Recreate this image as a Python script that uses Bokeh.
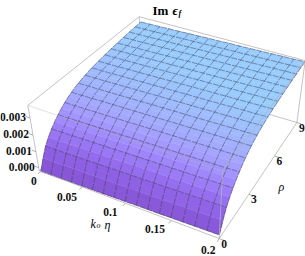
import numpy as np
from bokeh.plotting import figure
from bokeh.core.properties import value
from bokeh.embed import file_html
from bokeh.resources import INLINE

# ---- data ----
k_ticks = [0.0, 0.05, 0.1, 0.15, 0.2]
k_labels = ["0", "0.05", "0.1", "0.15", "0.2"]
rho_ticks = [0, 3, 6, 9]
rho_labels = ["0", "3", "6", "9"]
z_ticks = [0.0, 0.001, 0.002, 0.003]
z_labels = ["0.000", "0.001", "0.002", "0.003"]

k_mesh = [0.0, 0.0125, 0.025, 0.0375, 0.05, 0.0625, 0.075, 0.0875, 0.1, 0.1125, 0.125, 0.1375, 0.15, 0.1625, 0.175, 0.1875, 0.2]
# height along rho (every second row carries a mesh line), units of 1e-3
z_rise = [0.0, 0.62, 1.15, 1.5, 1.8, 2.04, 2.25, 2.44, 2.6, 2.74, 2.85, 2.95, 3.03, 3.1, 3.16, 3.21, 3.26,
          3.3, 3.33, 3.36, 3.39, 3.42, 3.44, 3.46, 3.48, 3.5, 3.52, 3.54, 3.55, 3.57, 3.58, 3.59, 3.6]
# height of the rho = 0 edge along k, units of 1e-3
z_edge = [-0.2, -0.19, -0.18, -0.16, -0.15, -0.13, -0.12, -0.1, -0.09, -0.07, -0.06, -0.05, -0.03, -0.02, 0.0, 0.01, 0.03]

# colour stops against height (units of 1e-3)
color_z = [-0.2, 0.6, 1.3, 1.9, 2.4, 3.0, 3.35]
color_rgb = [(132, 84, 208), (140, 92, 225), (150, 110, 240), (160, 135, 252), (165, 160, 255), (160, 185, 255), (153, 204, 255)]

# ---- viewing box and its place on the page ----
K0, K1 = -0.002, 0.2
R0, R1 = 0.0, 9.0
Z0, Z1 = -0.0002, 0.0037
corners3 = [(K0, R0, Z0), (K1, R0, Z0), (K1, R1, Z0), (K0, R1, Z0),
            (K0, R0, Z1), (K1, R0, Z1), (K1, R1, Z1), (K0, R1, Z1)]
corners2 = [(38, 170), (219, 238), (296, 122), (142, 76),
            (28, 105), (222, 171), (305, 60), (138, 16)]
k_label_dx = [-7, -15, -15, -16, -11]
k_label_dy = [10, 10, 9, 9, 11]


def fit_camera():
    A = []
    for (a, b, c), (u, v) in zip(corners3, corners2):
        a, b, c = a / 0.2, b / 9, c / 0.004
        A.append([a, b, c, 1, 0, 0, 0, 0, -u * a, -u * b, -u * c, -u])
        A.append([0, 0, 0, 0, a, b, c, 1, -v * a, -v * b, -v * c, -v])
    return np.linalg.svd(np.array(A, dtype=float))[2][-1].reshape(3, 4)


CAM = fit_camera()


def proj(a, b, c):
    w = CAM @ np.array([a / 0.2, b / 9, c / 0.004, 1.0])
    return w[0] / w[2], w[1] / w[2]


p = figure(width=305, height=256, x_range=(0, 305), y_range=(256, 0), output_backend="svg",
           toolbar_location=None, min_border=0, outline_line_color=None)
p.axis.visible = False
p.grid.visible = False

BOX = "#b4b4b4"
EDGES_BACK = [(3, 0), (3, 2), (3, 7)]
EDGES_FRONT = [(0, 1), (1, 2), (5, 6), (6, 7), (7, 4), (0, 4), (1, 5), (2, 6)]
EDGES_OVER = [(4, 5)]


def edge_lines(edges):
    xs, ys = [], []
    for i, j in edges:
        a, b = proj(*corners3[i]), proj(*corners3[j])
        xs.append([a[0], b[0]])
        ys.append([a[1], b[1]])
    return xs, ys


xs, ys = edge_lines(EDGES_BACK)
p.multi_line(xs, ys, line_color=BOX, line_width=0.8)

rho_rows = np.linspace(0, 9, len(z_rise))
zgrid = np.array([[e + r for e in z_edge] for r in z_rise]) * 1e-3
cstack = np.array(color_rgb, dtype=float)


def colour(z):
    z = z * 1e3
    return "#%02x%02x%02x" % tuple(int(round(np.interp(z, color_z, cstack[:, i]))) for i in range(3))


px, py, pc = [], [], []
for r in range(len(z_rise) - 1):
    for c in range(len(k_mesh) - 1):
        q = [(c, r), (c + 1, r), (c + 1, r + 1), (c, r + 1)]
        pts = [proj(k_mesh[i], rho_rows[j], zgrid[j, i]) for i, j in q]
        px.append([t[0] for t in pts])
        py.append([t[1] for t in pts])
        pc.append(colour(np.mean([zgrid[j, i] for i, j in q])))
p.patches(px, py, fill_color=pc, line_color=pc, line_width=0.4)

# mesh
mx, my = [], []
for r in range(0, len(z_rise), 2):
    pts = [proj(k_mesh[c], rho_rows[r], zgrid[r, c]) for c in range(len(k_mesh))]
    mx.append([t[0] for t in pts])
    my.append([t[1] for t in pts])
for c in range(len(k_mesh)):
    pts = [proj(k_mesh[c], rho_rows[r], zgrid[r, c]) for r in range(len(z_rise))]
    mx.append([t[0] for t in pts])
    my.append([t[1] for t in pts])
p.multi_line(mx, my, line_color="#2a2a3a", line_alpha=0.75, line_width=0.6, line_dash="6 1")

xs, ys = edge_lines(EDGES_FRONT)
p.multi_line(xs, ys, line_color=BOX, line_width=0.8)
xs, ys = edge_lines(EDGES_OVER)
p.multi_line(xs, ys, line_color=BOX, line_width=0.7, line_alpha=0.6)

# tick marks
tx, ty = [], []
for a in k_ticks:
    s, e = proj(a, R0, Z0), proj(a, R0 - 0.2, Z0)
    tx.append([s[0], e[0]]); ty.append([s[1], e[1]])
for a in rho_ticks:
    s, e = proj(K1, a, Z0), proj(K1 + 0.005, a, Z0)
    tx.append([s[0], e[0]]); ty.append([s[1], e[1]])
for a in z_ticks:
    s, e = proj(K0, R0, a), proj(K0 - 0.005, R0, a)
    tx.append([s[0], e[0]]); ty.append([s[1], e[1]])
p.multi_line(tx, ty, line_color="#999999", line_width=0.8)


def tick_text(points, labels, dx, dy, align="center"):
    x = [proj(*t)[0] for t in points]
    y = [proj(*t)[1] for t in points]
    p.text(x, y, text=labels, text_font=value("Liberation Serif"), text_font_style="bold",
           text_font_size="11.5px", text_align=align, text_baseline="middle",
           x_offset=dx, y_offset=dy, text_color="#111111")


tick_text([(t, R0, Z0) for t in k_ticks], k_labels, k_label_dx, k_label_dy)
tick_text([(K1, t, Z0) for t in rho_ticks], rho_labels, 5, 5)
tick_text([(K0, R0, t) for t in z_ticks], z_labels, -4, -1, "right")

p.text([152], [10], text=["Im"], text_font=value("Liberation Serif"), text_font_style="bold",
       text_font_size="13px", text_baseline="middle")
p.text([172], [10], text=["ϵ"], text_font=value("Liberation Serif"), text_font_style="bold italic",
       text_font_size="13px", text_baseline="middle")
p.text([178], [13], text=["f"], text_font=value("Liberation Serif"), text_font_style="bold italic",
       text_font_size="8px", text_baseline="middle")
p.text([90], [223], text=["k"], text_font=value("Liberation Serif"), text_font_style="italic",
       text_font_size="12px", text_baseline="middle")
p.text([96], [225], text=["o"], text_font=value("Liberation Serif"), text_font_style="italic",
       text_font_size="8px", text_baseline="middle")
p.text([104], [224], text=["η"], text_font=value("Liberation Serif"), text_font_style="italic",
       text_font_size="12px", text_baseline="middle")
p.text([281], [186], text=["ρ"], text_font=value("Liberation Serif"), text_font_style="italic",
       text_font_size="12px", text_align="center", text_baseline="middle")

open("out.html", "w").write(file_html(p, INLINE))
